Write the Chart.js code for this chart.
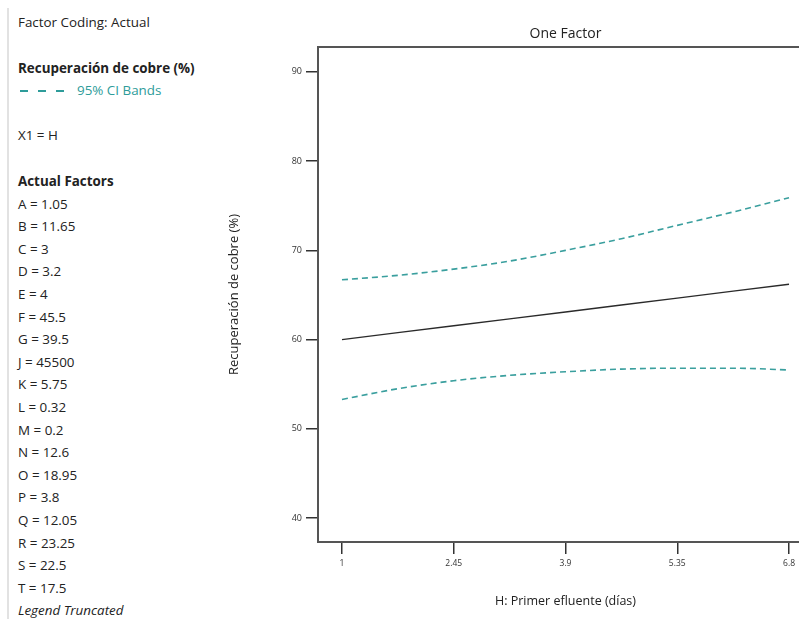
<!DOCTYPE html>
<html>
<head>
<meta charset="utf-8">
<script src="https://cdn.jsdelivr.net/npm/chart.js@4.4.0/dist/chart.umd.min.js"></script>
<style>
  html, body { margin: 0; padding: 0; background: #fff; overflow: hidden; width: 799px; height: 619px; }
  body { position: relative; font-family: "Open Sans", "Noto Sans", sans-serif; color: #222; }
  #sideLine { position: absolute; left: 7px; top: 8px; width: 2px; height: 611px; background: #e2e2e2; }
  .txt { position: absolute; left: 18px; font-size: 13.4px; line-height: 16px; white-space: nowrap; }
  .bold { font-weight: bold; }
  #ciLabel { color: #2e9c9a; }
  .dash { display: inline-block; width: 8px; height: 2px; background: #2e9c9a; vertical-align: middle; margin-right: 10px; }
  #chartBox { position: absolute; left: 220px; top: 0; }
</style>
</head>
<body>
<div id="sideLine"></div>
<div class="txt" style="top:14px">Factor Coding: Actual</div>
<div class="txt bold" style="top:60px">Recuperación de cobre (%)</div>
<div class="txt" id="ciLabel" style="top:82px; left:20px"><span class="dash"></span><span class="dash"></span><span class="dash"></span><span style="margin-left:3px">95% CI Bands</span></div>
<div class="txt" style="top:127px">X1 = H</div>
<div class="txt bold" style="top:173px">Actual Factors</div>
<div id="factors"></div>
<div id="chartBox"><canvas id="myChart" width="610" height="619"></canvas></div>

<script>
// valores
const xValues = [1, 1.725, 2.45, 3.175, 3.9, 4.625, 5.35, 6.075, 6.8];
const predicted = [60.0, 60.78, 61.55, 62.33, 63.1, 63.88, 64.65, 65.43, 66.2];
const upperCI = [66.7, 67.2, 67.9, 68.8, 70.0, 71.3, 72.8, 74.3, 75.9];
const lowerCI = [53.3, 54.5, 55.4, 56.0, 56.4, 56.7, 56.8, 56.8, 56.6];
const xTicks = [1, 2.45, 3.9, 5.35, 6.8];
const yTicks = [40, 50, 60, 70, 80, 90];

const factorNames = ['A', 'B', 'C', 'D', 'E', 'F', 'G', 'J', 'K', 'L', 'M', 'N', 'O', 'P', 'Q', 'R', 'S', 'T'];
const factorValues = ['1.05', '11.65', '3', '3.2', '4', '45.5', '39.5', '45500', '5.75', '0.32', '0.2', '12.6', '18.95', '3.8', '12.05', '23.25', '22.5', '17.5'];

// lista de factores a la izquierda
const factorsDiv = document.getElementById('factors');
factorNames.forEach((name, i) => {
  const d = document.createElement('div');
  d.className = 'txt';
  d.style.top = (195.5 + i * 22.6) + 'px';
  d.textContent = name + ' = ' + factorValues[i];
  factorsDiv.appendChild(d);
});
const trunc = document.createElement('div');
trunc.className = 'txt';
trunc.style.top = (195.5 + factorNames.length * 22.6) + 'px';
trunc.style.fontStyle = 'italic';
trunc.textContent = 'Legend Truncated';
factorsDiv.appendChild(trunc);

const FONT = '"Open Sans", "Noto Sans", sans-serif';
const TEAL = '#3a9f9e';

const toPoints = arr => arr.map((v, i) => ({ x: xValues[i], y: v }));

// marco y titulo
const framePlugin = {
  id: 'frame',
  afterDraw(chart) {
    const { ctx, chartArea } = chart;
    ctx.save();
    ctx.strokeStyle = '#555';
    ctx.lineWidth = 2;
    ctx.beginPath();
    ctx.moveTo(chartArea.left, chartArea.top);
    ctx.lineTo(chartArea.right, chartArea.top);
    ctx.lineTo(chartArea.right, chartArea.bottom);
    ctx.stroke();
    ctx.fillStyle = '#222';
    ctx.font = '14px ' + FONT;
    ctx.textAlign = 'center';
    ctx.textBaseline = 'middle';
    ctx.fillText('One Factor', (chartArea.left + chartArea.right) / 2, chartArea.top - 13);
    ctx.restore();
  }
};

const ctx = document.getElementById('myChart').getContext('2d');
new Chart(ctx, {
  type: 'line',
  data: {
    datasets: [
      {
        label: 'Upper CI',
        data: toPoints(upperCI),
        borderColor: TEAL,
        borderWidth: 1.6,
        borderDash: [6, 4],
        pointRadius: 0,
        fill: false,
        cubicInterpolationMode: 'monotone'
      },
      {
        label: 'Predicción',
        data: toPoints(predicted),
        borderColor: '#2a2a2a',
        borderWidth: 1.4,
        pointRadius: 0,
        fill: false
      },
      {
        label: 'Lower CI',
        data: toPoints(lowerCI),
        borderColor: TEAL,
        borderWidth: 1.6,
        borderDash: [6, 4],
        pointRadius: 0,
        fill: false,
        cubicInterpolationMode: 'monotone'
      }
    ]
  },
  options: {
    responsive: false,
    animation: false,
    layout: { padding: { left: 0, right: 17, top: 47, bottom: 0 } },
    plugins: {
      legend: { display: false },
      tooltip: { enabled: false }
    },
    scales: {
      x: {
        type: 'linear',
        min: 0.689,
        max: 7.111,
        afterFit: s => { s.height = 77; },
        afterBuildTicks: s => { s.ticks = xTicks.map(v => ({ value: v })); },
        border: { display: true, color: '#555', width: 2 },
        grid: { drawOnChartArea: false, drawTicks: true, tickLength: 12, tickColor: '#333', lineWidth: 1.5 },
        ticks: {
          color: '#333',
          padding: 4,
          maxRotation: 0,
          font: { family: FONT, size: 8.5 },
          callback: v => String(v)
        },
        title: {
          display: true,
          text: 'H: Primer efluente (días)',
          color: '#222',
          font: { family: FONT, size: 12.5 },
          padding: { top: 10.5, bottom: 10.5 }
        }
      },
      y: {
        min: 37.33,
        max: 92.78,
        afterFit: s => { s.width = 98; },
        afterBuildTicks: s => { s.ticks = yTicks.map(v => ({ value: v })); },
        border: { display: true, color: '#555', width: 2 },
        grid: { drawOnChartArea: false, drawTicks: true, tickLength: 12, tickColor: '#333', lineWidth: 1.5 },
        ticks: {
          color: '#333',
          padding: 4,
          font: { family: FONT, size: 9 },
          callback: v => String(v)
        },
        title: {
          display: true,
          text: 'Recuperación de cobre (%)',
          color: '#222',
          font: { family: FONT, size: 13 },
          padding: { top: 6, bottom: 0 }
        }
      }
    }
  },
  plugins: [framePlugin]
});
</script>
</body>
</html>
